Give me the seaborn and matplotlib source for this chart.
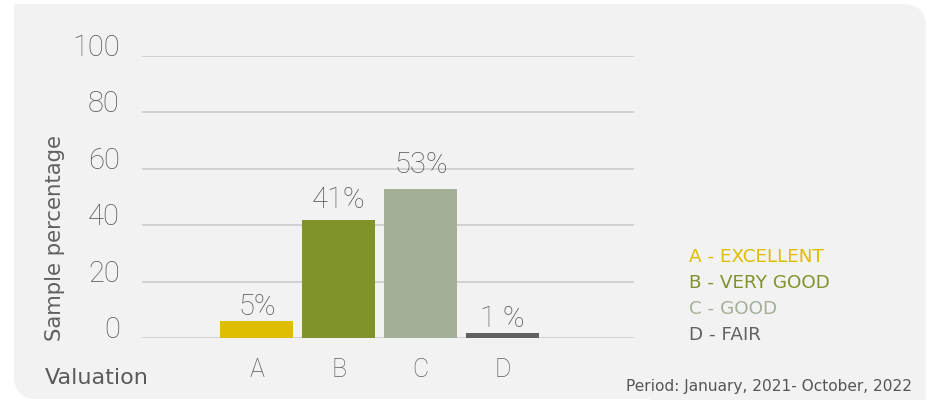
import matplotlib
matplotlib.use("Agg")
import matplotlib.pyplot as plt
import pandas as pd
import seaborn as sns
from matplotlib.patches import FancyBboxPatch, Rectangle

# Data
categories = ["A", "B", "C", "D"]
bar_heights = [6, 42, 53, 2]
bar_labels = ["5%", "41%", "53%", "1 %"]
legend_names = ["A - EXCELLENT", "B - VERY GOOD", "C - GOOD", "D - FAIR"]
colors = ["#dfbd00", "#80932b", "#a4af98", "#616161"]
y_ticks = [0, 20, 40, 60, 80, 100]

df = pd.DataFrame({"valuation": categories, "pct": bar_heights})

sns.set_style("white")
plt.rcParams["font.family"] = ["Roboto", "DejaVu Sans"]
num_font = "Roboto"
txt_font = "DejaVu Sans"
num_color = "#585858"

W, H = 928, 400
fig = plt.figure(figsize=(W / 100, H / 100), dpi=100)
fig.patch.set_facecolor("white")

# light gray panel, rounded at top-right and bottom-left
bg = "#f2f2f2"
x0, x1, y0, y1 = 14 / W, 926 / W, 1 / H, 1 - 4 / H
fig.patches.append(FancyBboxPatch((x0, y0), x1 - x0, y1 - y0,
                                  boxstyle="round,pad=0,rounding_size=0.025",
                                  mutation_aspect=W / H,
                                  transform=fig.transFigure, facecolor=bg,
                                  edgecolor="none", zorder=-2))
# square corners top-left and bottom-right
fig.patches.append(Rectangle((x0, 0.5), 0.2, y1 - 0.5, transform=fig.transFigure,
                             facecolor=bg, edgecolor="none", zorder=-1))
fig.patches.append(Rectangle((0.7, 0), x1 - 0.7, 0.5, transform=fig.transFigure,
                             facecolor=bg, edgecolor="none", zorder=-1))

# axes: x from 142 to 634 px, y from 338 (0) to 56 (100)
ax = fig.add_axes([142 / W, (H - 338.3) / H, (634 - 142) / W, (338.3 - 56) / H])
ax.set_facecolor("none")

sns.barplot(data=df, x="valuation", y="pct", hue="valuation", palette=colors,
            width=0.89, legend=False, ax=ax, saturation=1, linewidth=0, zorder=3)

# value labels sit a little unevenly above the bars in the original
for cont, lab, pad in zip(ax.containers, bar_labels, (0, 4, 7, 0)):
    ax.bar_label(cont, labels=[lab], padding=pad, fontsize=21, color=num_color,
                 family=num_font, fontweight="light")

ax.set_xlim(-1.4, 4.6)
ax.set_ylim(0, 100)
ax.set_yticks(y_ticks)
ax.set_yticklabels([str(t) for t in y_ticks], fontsize=21, color=num_color,
                   family=num_font, fontweight="light", va="baseline")
ax.yaxis.grid(True, color="#cfcfcf", linewidth=1.3, zorder=0)
ax.set_axisbelow(True)
ax.tick_params(axis="y", length=0, pad=16)
ax.tick_params(axis="x", length=0, pad=14)
for t in ax.get_xticklabels():
    t.set_family(num_font)
    t.set_fontweight("light")
    t.set_fontsize(18)
    t.set_color("#5f5f5f")
for s in ax.spines.values():
    s.set_visible(False)
ax.set_xlabel("")
ax.set_ylabel("")

fig.text(55 / W, 1 - 238 / H, "Sample percentage", rotation=90, ha="center",
         va="center", fontsize=15.3, color="#606060", family=txt_font)
fig.text(45 / W, 1 - 378 / H, "Valuation", ha="left", va="center",
         fontsize=16, color="#5a5a5a", family=txt_font)

for i, (name, c) in enumerate(zip(legend_names, colors)):
    fig.text(689 / W, 1 - (257 + 26 * i) / H, name, ha="left", va="center",
             fontsize=13.2, color=c, family=txt_font)

fig.text(912 / W, 1 - 386 / H, "Period: January, 2021- October, 2022",
         ha="right", va="center", fontsize=11.1, color="#555555", family=txt_font)

fig.savefig("out.png", dpi=100, facecolor=fig.get_facecolor())
